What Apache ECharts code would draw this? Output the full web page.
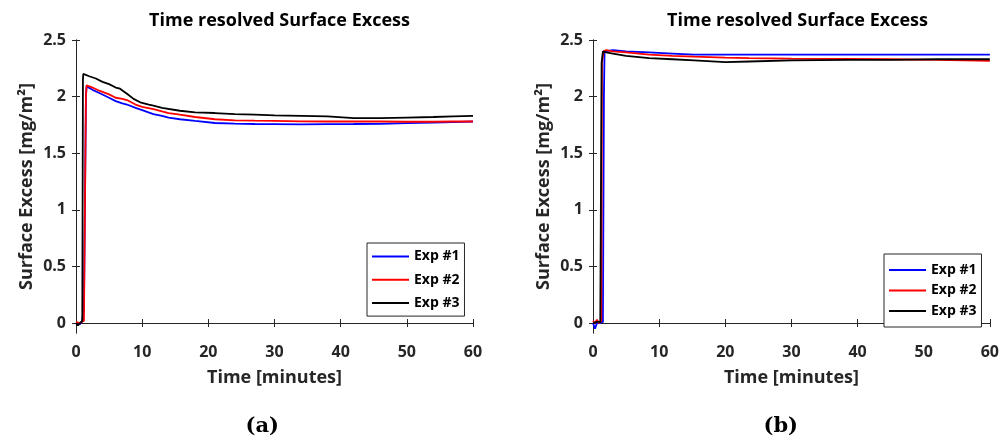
<!DOCTYPE html>
<html>
<head>
<meta charset="utf-8">
<script src="https://cdn.jsdelivr.net/npm/echarts@6/dist/echarts.min.js"></script>
<style>html,body{margin:0;padding:0;background:#fff}#c{width:1002px;height:440px}</style>
</head>
<body>
<div id="c"></div>
<script>
// ---- labels / ticks ----
const seriesNames = ['Exp #1', 'Exp #2', 'Exp #3'];
const yTicks = [0, 0.5, 1, 1.5, 2, 2.5];

// ---- data (panel a) ----
const a1T = [0,0.3,0.6,0.9,1.2,1.4,1.5,1.6,2.5,3.6,5,6,7,7.7,9,10,11.7,13,14,15.7,18,21,24,27,30,34,38,42,46,50,54,57,60];
const a1V = [0,0.01,-0.01,0.01,0.13,0.14,2.0,2.09,2.06,2.03,1.99,1.96,1.94,1.93,1.90,1.88,1.846,1.83,1.815,1.80,1.785,1.767,1.762,1.758,1.757,1.755,1.757,1.758,1.76,1.765,1.77,1.775,1.78];
const a2T = [0,0.3,0.6,0.9,1.2,1.4,1.5,1.6,2.5,3.6,5,6,7,7.7,9,10,11.7,13,14,15.7,18,21,24,27,30,34,38,42,46,50,54,57,60];
const a2V = [0.01,0.02,0,0.01,0.02,0.03,2.0,2.10,2.08,2.05,2.02,1.99,1.98,1.97,1.93,1.91,1.89,1.87,1.855,1.84,1.82,1.80,1.79,1.787,1.785,1.782,1.78,1.78,1.78,1.778,1.778,1.78,1.78];
const a3T = [0,0.3,0.6,0.8,0.95,1.05,1.1,2,3,4,5,6,6.65,7.7,8.7,9.7,11,11.7,13,15.7,18,21,24,27,30,34,38,42,46,50,54,57,60];
const a3V = [0,-0.02,0,-0.01,0.02,2.15,2.2,2.18,2.16,2.13,2.11,2.08,2.07,2.025,1.98,1.95,1.93,1.92,1.90,1.875,1.86,1.855,1.845,1.84,1.835,1.83,1.825,1.81,1.81,1.815,1.82,1.825,1.83];

// ---- data (panel b) ----
const b1T = [0,0.3,0.6,0.8,1.0,1.3,1.5,1.65,1.75,2,3,5,8.5,12,15.3,20,23.6,30,38.6,45,52,60];
const b1V = [0,-0.05,0,0.01,0,0,0.01,2.0,2.40,2.41,2.41,2.40,2.39,2.38,2.37,2.37,2.37,2.37,2.37,2.37,2.37,2.37];
const b2T = [0,0.3,0.6,0.9,1.1,1.25,1.35,1.6,2,3,5,8.5,12,15.3,20,23.6,30,38.6,45,52,60];
const b2V = [0.02,0,0.03,0,0.01,0.02,2.3,2.40,2.41,2.40,2.39,2.37,2.36,2.353,2.345,2.34,2.335,2.333,2.33,2.325,2.315];
const b3T = [0,0.3,0.6,0.9,1.1,1.2,1.3,1.5,2,3,5,8.5,12,15.3,20,23.6,30,38.6,45,52,60];
const b3V = [0,-0.01,0.01,0,0.01,0.02,2.3,2.40,2.39,2.38,2.36,2.34,2.33,2.32,2.305,2.31,2.32,2.325,2.325,2.33,2.33];

const colors = ['#0000ff', '#ff0000', '#000000'];
const zip = (t, v) => t.map((x, i) => [x, v[i]]);
const panels = [[zip(a1T,a1V), zip(a2T,a2V), zip(a3T,a3V)], [zip(b1T,b1V), zip(b2T,b2V), zip(b3T,b3V)]];

const AX = '#262626';
const FONT = 'Open Sans';
const gridsPos = [{left: 76, width: 397}, {left: 593, width: 399}];

const grid = gridsPos.map(g => ({left: g.left, width: g.width, top: 40, height: 293, containLabel: false}));
const xAxis = [], yAxis = [], series = [], title = [], graphic = [];
gridsPos.forEach((g, gi) => {
  const cx = g.left + g.width / 2;
  xAxis.push({
    type: 'value', gridIndex: gi, min: 0, max: 60, interval: 10,
    name: 'Time [minutes]', nameLocation: 'middle', nameGap: 36,
    nameTextStyle: {fontFamily: FONT, fontWeight: 'bold', fontSize: 18, color: AX},
    axisLine: {lineStyle: {color: AX, width: 1}},
    axisTick: {inside: true, length: 4, lineStyle: {color: AX}},
    axisLabel: {fontFamily: FONT, fontWeight: 'bold', fontSize: 16, color: AX, margin: 11},
    splitLine: {show: false}
  });
  xAxis.push({
    type: 'value', gridIndex: gi, position: 'top', min: 0, max: 60, interval: 10,
    axisLine: {show: true, lineStyle: {color: AX, width: 1}},
    axisTick: {inside: true, length: 4, lineStyle: {color: AX}},
    axisLabel: {show: false}, splitLine: {show: false}
  });
  yAxis.push({
    type: 'value', gridIndex: gi, min: -0.088, max: 2.5,
    name: 'Surface Excess [mg/m²]', nameLocation: 'middle', nameGap: 40,
    nameTextStyle: {fontFamily: FONT, fontWeight: 'bold', fontSize: 18, color: AX},
    axisLine: {show: true, lineStyle: {color: AX, width: 1}},
    axisTick: {show: true, inside: true, length: 4, lineStyle: {color: AX}, customValues: yTicks},
    axisLabel: {fontFamily: FONT, fontWeight: 'bold', fontSize: 16, color: AX, margin: 10, customValues: yTicks},
    splitLine: {show: false}
  });
  yAxis.push({
    type: 'value', gridIndex: gi, position: 'right', min: -0.088, max: 2.5,
    axisLine: {show: true, lineStyle: {color: AX, width: 1}},
    axisTick: {show: true, inside: true, length: 4, lineStyle: {color: AX}, customValues: yTicks},
    axisLabel: {show: false, customValues: yTicks}, splitLine: {show: false}
  });
  panels[gi].forEach((d, si) => {
    series.push({
      name: seriesNames[si], type: 'line', xAxisIndex: gi * 2, yAxisIndex: gi * 2,
      data: d, showSymbol: false, symbol: 'none', animation: false,
      lineStyle: {color: colors[si], width: 1.8}, itemStyle: {color: colors[si]}
    });
  });
  title.push({
    text: 'Time resolved Surface Excess', left: cx, top: 7, textAlign: 'center',
    textStyle: {fontFamily: FONT, fontWeight: 'bold', fontSize: 18, color: '#000'}
  });
  graphic.push({
    type: 'text', left: cx - 29, top: 416,
    style: {text: gi === 0 ? '(a)' : '(b)', font: 'bold 21px "DejaVu Serif"', fill: '#000'}
  });
});

const legendCfg = [
  {left: 367, top: 243, padding: [6.5, 5, 6, 4], itemGap: 9.3},
  {left: 884, top: 254, padding: [9, 5, 9, 4], itemGap: 6.5}
];
const legend = legendCfg.map(p => ({
  data: seriesNames, orient: 'vertical', left: p.left, top: p.top,
  padding: p.padding, itemGap: p.itemGap, itemWidth: 37, itemHeight: 14,
  backgroundColor: '#fff', borderColor: AX, borderWidth: 1,
  itemStyle: {opacity: 0},
  textStyle: {fontFamily: FONT, fontWeight: 'bold', fontSize: 14, color: '#000'},
  selectedMode: false
}));

const chart = echarts.init(document.getElementById('c'), null, {renderer: 'canvas'});
chart.setOption({animation: false, backgroundColor: '#fff', title, grid, xAxis, yAxis, series, legend, graphic});
</script>
</body>
</html>
